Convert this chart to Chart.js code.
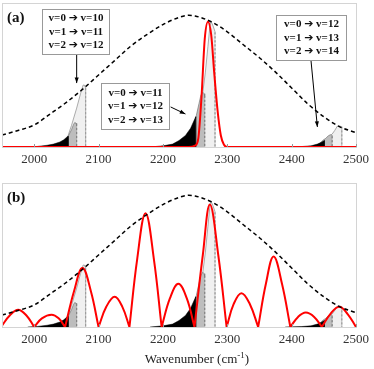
<!DOCTYPE html>
<html><head><meta charset="utf-8">
<script src="https://cdn.jsdelivr.net/npm/chart.js@4.4.1/dist/chart.umd.min.js"></script>
<style>
html,body{margin:0;padding:0;background:#fff;}
#wrap{position:relative;width:374px;height:369px;}
canvas{position:absolute;left:0;}
</style></head><body>
<div id="wrap">
<canvas id="ca" width="374" height="180" style="top:0"></canvas>
<canvas id="cb" width="374" height="189" style="top:180px"></canvas>
</div>
<script>
// x ticks
const xTicks = [2000, 2100, 2200, 2300, 2400, 2500];

// dashed envelope (both panels)
const envX = [1950, 1975, 2000, 2025, 2050, 2075, 2100, 2125, 2150, 2175, 2200, 2225, 2240, 2250, 2275, 2300, 2325, 2350, 2375, 2400, 2425, 2450, 2475, 2500];
const envY = [0.083, 0.115, 0.153, 0.23, 0.31, 0.40, 0.50, 0.60, 0.70, 0.78, 0.85, 0.90, 0.915, 0.91, 0.87, 0.80, 0.71, 0.62, 0.52, 0.41, 0.30, 0.21, 0.14, 0.10];

// red curve, panel (a)
const redAX = [1950, 2240, 2250, 2255, 2260, 2265, 2270, 2275, 2280, 2285, 2290, 2295, 2300, 2500];
const redAY = [0, 0, 0.01, 0.06, 0.35, 0.75, 0.87, 0.78, 0.5, 0.25, 0.08, 0.015, 0, 0];

// red curve, panel (b): one lobe per list, zero to zero
const lobesB = [
  [[1950, 0.01], [1962, 0.08], [1975, 0.12], [1988, 0.08], [2000, 0]],
  [[2000, 0], [2012, 0.06], [2027, 0.085], [2038, 0.06], [2048, 0]],
  [[2048, 0], [2062, 0.25], [2075, 0.41], [2088, 0.25], [2100, 0]],
  [[2100, 0], [2112, 0.14], [2125, 0.21], [2137, 0.14], [2148, 0]],
  [[2148, 0], [2160, 0.47], [2173, 0.79], [2186, 0.47], [2198, 0]],
  [[2198, 0], [2211, 0.2], [2224, 0.30], [2237, 0.2], [2249, 0]],
  [[2249, 0], [2262, 0.5], [2273, 0.85], [2286, 0.5], [2299, 0]],
  [[2299, 0], [2310, 0.16], [2322, 0.235], [2335, 0.16], [2348, 0]],
  [[2348, 0], [2360, 0.3], [2372, 0.49], [2385, 0.3], [2398, 0]],
  [[2398, 0], [2410, 0.07], [2422, 0.10], [2435, 0.07], [2447, 0]],
  [[2447, 0], [2460, 0.09], [2474, 0.14], [2487, 0.09], [2500, 0]]
];

// band profiles (same in both panels)
const light1 = [[2045, 0], [2052, 0.07], [2058, 0.15], [2066, 0.27], [2072, 0.37], [2076, 0.43], [2078, 0.43], [2080, 0.41], [2080, 0]];
const dark1 = [[2040, 0], [2048, 0.04], [2053, 0.075], [2058, 0.12], [2061, 0.155], [2063, 0.17], [2065, 0.165], [2066, 0.155], [2066, 0]];
const black1 = [[1990, 0], [2005, 0.004], [2020, 0.012], [2030, 0.02], [2040, 0.035], [2046, 0.05], [2051, 0.07], [2053, 0.075], [2053, 0]];

const light2 = [[2245, 0], [2255, 0.2], [2262, 0.38], [2266, 0.52], [2270, 0.7], [2273, 0.84], [2275, 0.87], [2278, 0.84], [2281, 0.8], [2281, 0]];
const dark2 = [[2235, 0], [2245, 0.1], [2252, 0.22], [2256, 0.3], [2259, 0.36], [2262, 0.38], [2264, 0.37], [2265, 0.35], [2265, 0]];
const black2 = [[2180, 0], [2200, 0.008], [2215, 0.02], [2225, 0.045], [2235, 0.08], [2243, 0.13], [2248, 0.18], [2251, 0.21], [2251, 0]];

const light3 = [[2450, 0], [2458, 0.07], [2463, 0.09], [2467, 0.115], [2471, 0.145], [2475, 0.145], [2478, 0.14], [2478, 0]];
const dark3 = [[2440, 0], [2448, 0.045], [2453, 0.06], [2457, 0.078], [2460, 0.085], [2462, 0.085], [2463, 0.08], [2463, 0]];
const black3 = [[2390, 0], [2415, 0.003], [2430, 0.008], [2440, 0.02], [2447, 0.035], [2451, 0.045], [2451, 0]];

// annotation boxes of panel (a), in data units
const boxes = [
  {lines: ['v=0 \u2794 v=10', 'v=1 \u2794 v=11', 'v=2 \u2794 v=12'], x0: 2012, x1: 2117, y0: 0.958, y1: 0.646,
   from: [2066, 0.646], to: [2066, 0.444]},
  {lines: ['v=0 \u2794 v=11', 'v=1 \u2794 v=12', 'v=2 \u2794 v=13'], x0: 2104, x1: 2210, y0: 0.444, y1: 0.125,
   from: [2212, 0.278], to: [2235, 0.229]},
  {lines: ['v=0 \u2794 v=12', 'v=1 \u2794 v=13', 'v=2 \u2794 v=14'], x0: 2376, x1: 2485, y0: 0.917, y1: 0.604,
   from: [2430, 0.604], to: [2440, 0.139]}
];

const pts = arr => arr.map(p => ({x: p[0], y: p[1]}));
const zip = (xs, ys) => xs.map((x, i) => ({x: x, y: ys[i]}));
const edgeDash = {borderDash: c => c.p0.parsed.x === c.p1.parsed.x ? [2, 2] : undefined};

function bandSets() {
  const out = [];
  [[light1, dark1, black1], [light2, dark2, black2], [light3, dark3, black3]].forEach(g => {
    out.push({data: pts(g[0]), backgroundColor: '#f0f0f0', borderColor: '#8a8a8a', borderWidth: 0.7, fill: 'origin', order: 6, segment: edgeDash});
    out.push({data: pts(g[1]), backgroundColor: '#bdbdbd', borderColor: '#777', borderWidth: 0.7, fill: 'origin', order: 5, segment: edgeDash});
    out.push({data: pts(g[2]), backgroundColor: '#000', borderColor: '#000', borderWidth: 0.5, fill: 'origin', order: 4});
  });
  return out;
}

const framePlugin = {
  id: 'frame',
  afterDraw(chart, args, opts) {
    const {ctx, chartArea: a, scales} = chart;
    ctx.save();
    ctx.strokeStyle = '#d4d4d4';
    ctx.lineWidth = 1;
    ctx.strokeRect(a.left + 0.5, a.top + 0.5, a.right - a.left, a.bottom - a.top);
    ctx.strokeStyle = '#999';
    xTicks.forEach(v => {
      const px = Math.round(scales.x.getPixelForValue(v)) + 0.5;
      ctx.beginPath(); ctx.moveTo(px, a.bottom); ctx.lineTo(px, a.bottom - 3); ctx.stroke();
    });
    ctx.fillStyle = '#111';
    ctx.font = 'bold 15px "Liberation Serif"';
    ctx.textBaseline = 'middle';
    ctx.fillText(opts.label, 7, 18);
    if (opts.title) {
      ctx.font = '13px "Liberation Serif"';
      ctx.fillStyle = '#222';
      const t1 = 'Wavenumber (cm', t2 = '-1', t3 = ')';
      const w1 = ctx.measureText(t1).width;
      ctx.font = '9px "Liberation Serif"';
      const w2 = ctx.measureText(t2).width;
      ctx.font = '13px "Liberation Serif"';
      const w3 = ctx.measureText(t3).width;
      let x = 197 - (w1 + w2 + w3) / 2;
      const y = 180;
      ctx.fillText(t1, x, y); x += w1;
      ctx.font = '9px "Liberation Serif"';
      ctx.fillText(t2, x, y - 4); x += w2;
      ctx.font = '13px "Liberation Serif"';
      ctx.fillText(t3, x, y);
    }
    if (opts.boxes) {
      const X = v => scales.x.getPixelForValue(v), Y = v => scales.y.getPixelForValue(v);
      opts.boxes.forEach(b => {
        const l = Math.round(X(b.x0)) + 0.5, r = Math.round(X(b.x1)) + 0.5;
        const t = Math.round(Y(b.y0)) + 0.5, bt = Math.round(Y(b.y1)) + 0.5;
        // arrow
        const fx = X(b.from[0]), fy = Y(b.from[1]), tx = X(b.to[0]), ty = Y(b.to[1]);
        ctx.strokeStyle = '#000'; ctx.fillStyle = '#000'; ctx.lineWidth = 1;
        ctx.beginPath(); ctx.moveTo(fx, fy); ctx.lineTo(tx, ty); ctx.stroke();
        const ang = Math.atan2(ty - fy, tx - fx);
        ctx.beginPath();
        ctx.moveTo(tx, ty);
        ctx.lineTo(tx - 6 * Math.cos(ang - 0.35), ty - 6 * Math.sin(ang - 0.35));
        ctx.lineTo(tx - 6 * Math.cos(ang + 0.35), ty - 6 * Math.sin(ang + 0.35));
        ctx.closePath(); ctx.fill();
        // box
        ctx.fillStyle = '#fff';
        ctx.fillRect(l, t, r - l, bt - t);
        ctx.strokeStyle = '#999';
        ctx.strokeRect(l, t, r - l, bt - t);
        ctx.fillStyle = '#111';
        ctx.font = 'bold 11px "Liberation Serif", "DejaVu Sans"';
        ctx.textAlign = 'center';
        const cx = (l + r) / 2, lh = 13.4;
        const cy = (t + bt) / 2;
        b.lines.forEach((s, i) => ctx.fillText(s, cx, cy + (i - 1) * lh));
        ctx.textAlign = 'left';
      });
    }
    ctx.restore();
  }
};

function makeChart(id, redData, redMode, axisH, pluginOpts) {
  const datasets = [
    {data: zip(envX, envY), borderColor: '#000', borderWidth: 1.5, borderDash: [4, 3], cubicInterpolationMode: 'monotone', order: 1},
    {data: redData, borderColor: '#ff0000', borderWidth: 2, order: 2,
     cubicInterpolationMode: redMode, tension: 0.4}
  ].concat(bandSets());
  return new Chart(document.getElementById(id), {
    type: 'line',
    data: {datasets: datasets},
    options: {
      responsive: false,
      animation: false,
      devicePixelRatio: 1,
      layout: {padding: {left: 2, right: 16, top: 3, bottom: 0}},
      elements: {point: {radius: 0}, line: {borderJoinStyle: 'round'}},
      plugins: {legend: {display: false}, tooltip: {enabled: false}, frame: pluginOpts},
      scales: {
        x: {
          type: 'linear', min: 1950, max: 2500,
          afterBuildTicks: s => { s.ticks = xTicks.map(v => ({value: v})); },
          afterFit: s => { s.height = axisH; },
          grid: {display: false, drawTicks: false},
          border: {display: false},
          ticks: {color: '#333', font: {family: 'Liberation Serif', size: 13}, padding: 5, maxRotation: 0, autoSkip: false,
                  callback: v => String(v)}
        },
        y: {display: false, min: 0, max: 1}
      }
    },
    plugins: [framePlugin]
  });
}

makeChart('ca', zip(redAX, redAY), 'monotone', 33, {label: '(a)', boxes: boxes});
makeChart('cb', pts([].concat(...lobesB)), 'default', 42, {label: '(b)', title: true});
</script>
</body></html>
